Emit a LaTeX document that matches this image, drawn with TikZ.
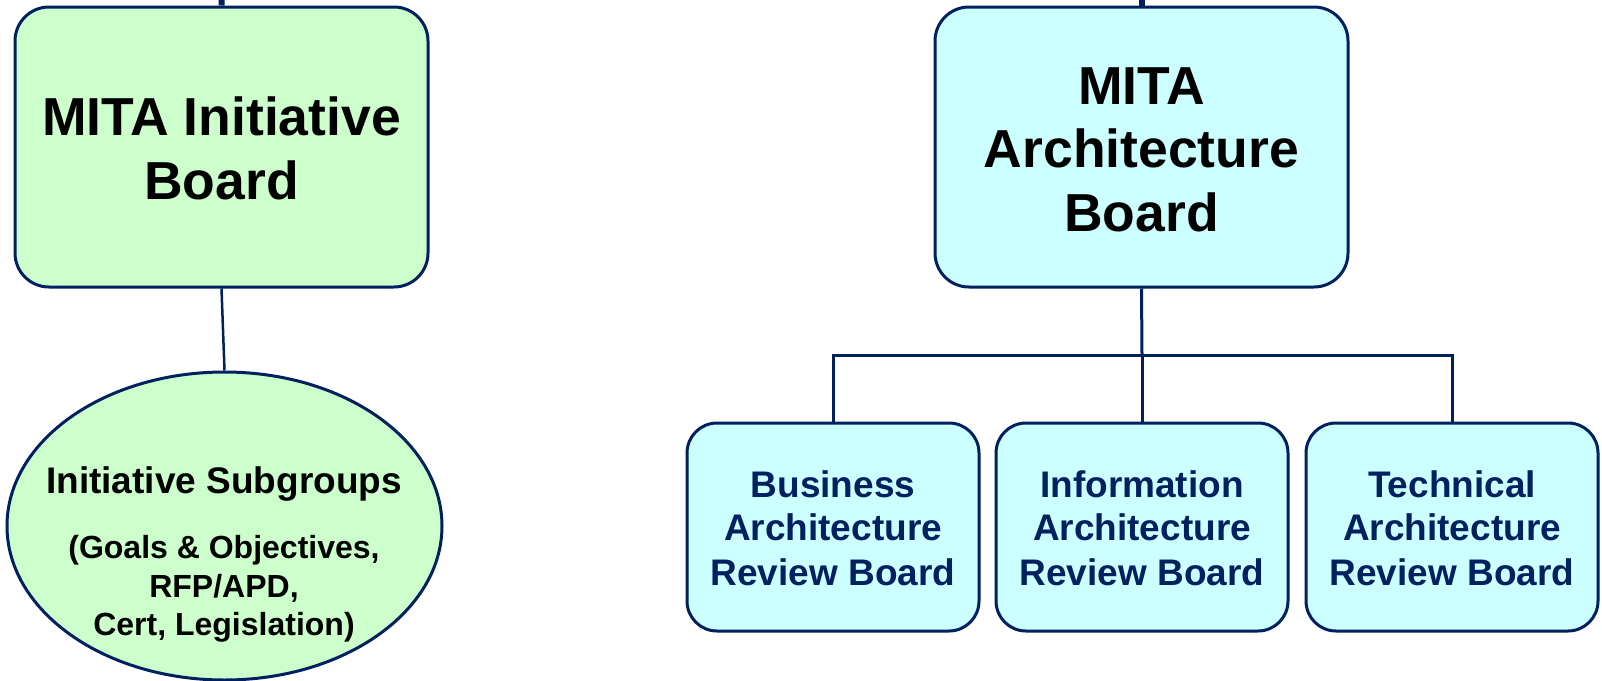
\documentclass[tikz,border=0pt]{standalone}
\usepackage{fontspec}
\setmainfont{Liberation Sans}
\usetikzlibrary{shapes.geometric}
\definecolor{navy}{HTML}{002060}
\definecolor{greenfill}{HTML}{CCFFCC}
\definecolor{cyanfill}{HTML}{CCFFFF}
\tikzset{
  bigbox/.style={draw=navy, line width=3pt, rounded corners=34pt, inner sep=0pt},
  smallbox/.style={draw=navy, line width=3pt, rounded corners=30pt, fill=cyanfill,
    minimum width=292pt, minimum height=208pt, inner sep=0pt},
  conn/.style={draw=navy, line width=3pt},
  stub/.style={draw=navy, line width=6pt},
  bigtxt/.style={anchor=base, inner sep=0pt, font=\fontsize{53.5}{64}\selectfont\bfseries},
  midtxt/.style={anchor=base, inner sep=0pt, font=\fontsize{37}{44}\selectfont\bfseries},
  partxt/.style={anchor=base, inner sep=0pt, font=\fontsize{32}{38}\selectfont\bfseries},
  revtxt/.style={anchor=base, inner sep=0pt, text=navy, font=\fontsize{37}{44}\selectfont\bfseries},
}
\begin{document}
\begin{tikzpicture}[x=1pt, y=-1pt]
\useasboundingbox (0,0) rectangle (1602,680);
% top boards
\node[bigbox, fill=greenfill, minimum width=413pt, minimum height=280pt] (ib) at (221.5,147) {};
\node[bigbox, fill=cyanfill, minimum width=413pt, minimum height=280pt] (ab) at (1141.5,147) {};
\coordinate (ibtop) at (222,-10);
\coordinate (abtop) at (1141.5,-10);
\draw[stub] (ib.north) -- (ibtop);
\draw[stub] (ab.north) -- (abtop);
% ellipse
\node[draw=navy, line width=3pt, fill=greenfill, ellipse, minimum width=435pt, minimum height=308pt, inner sep=0pt] (sub) at (224.5,526) {};
\draw[conn, line width=2.5pt] (ib.south) -- (sub.north);
% review boards
\node[smallbox] (bus) at (833,527) {};
\node[smallbox] (inf) at (1142,527) {};
\node[smallbox] (tec) at (1452,527) {};
\coordinate (bar) at (1142,355);
\draw[conn] (ab.south) -- (bar);
\draw[conn] (bar) -- (inf.north);
\draw[conn] (bus.north) -- (bus.north |- bar) -- (tec.north |- bar) -- (tec.north);
% texts
\node[bigtxt] (ib1) at (221.5,135) {MITA Initiative};
\node[bigtxt] (ib2) at (221.5,199) {Board};
\node[bigtxt] (ab1) at (1141.5,104) {MITA};
\node[bigtxt] (ab2) at (1141.5,167) {Architecture};
\node[bigtxt] (ab3) at (1141.5,231) {Board};
\node[midtxt] (s1) at (224,493) {Initiative Subgroups};
\node[partxt] (s2) at (224,558) {(Goals \& Objectives,};
\node[partxt] (s3) at (224,597) {RFP/APD,};
\node[partxt] (s4) at (224,635) {Cert, Legislation)};
\node[revtxt] (b1) at (833,497) {Business};
\node[revtxt] (b2) at (833,540) {Architecture};
\node[revtxt] (b3) at (833,585) {Review Board};
\node[revtxt] (i1) at (1142,497) {Information};
\node[revtxt] (i2) at (1142,540) {Architecture};
\node[revtxt] (i3) at (1142,585) {Review Board};
\node[revtxt] (t1) at (1452,497) {Technical};
\node[revtxt] (t2) at (1452,540) {Architecture};
\node[revtxt] (t3) at (1452,585) {Review Board};
\end{tikzpicture}
\end{document}
